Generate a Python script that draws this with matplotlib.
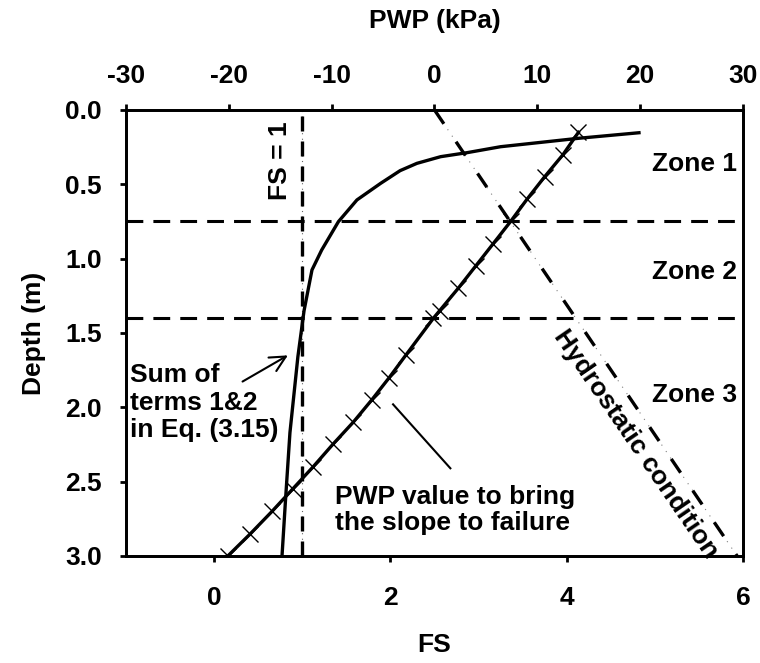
import matplotlib
matplotlib.use("Agg")
import matplotlib.pyplot as plt

plt.rcParams['font.family'] = ['Liberation Sans', 'DejaVu Sans']
plt.rcParams['font.weight'] = 'bold'
plt.rcParams['font.size'] = 19
plt.rcParams['axes.unicode_minus'] = False

# "Sum of terms 1&2 in Eq. (3.15)" curve (FS vs depth)
sum_depth = [0.153, 0.19, 0.247, 0.287, 0.314, 0.359, 0.408, 0.493, 0.605, 0.751, 0.942,
             1.076, 1.35, 1.66, 2.17, 2.62, 3.0]
sum_fs = [4.82, 4.14, 3.25, 2.87, 2.57, 2.30, 2.11, 1.89, 1.62, 1.41, 1.22,
          1.11, 1.02, 0.95, 0.86, 0.81, 0.77]

# PWP value to bring the slope to failure (kPa vs depth)
fail_depth = [0.15, 0.30, 0.45, 0.60, 0.75, 0.90, 1.05, 1.20, 1.35, 1.40, 1.65, 1.80, 1.95,
              2.10, 2.25, 2.40, 2.55, 2.70, 2.85, 3.00]
fail_pwp = [14.0, 12.5, 10.7, 9.0, 7.4, 5.7, 4.0, 2.3, 0.5, -0.1, -2.8, -4.4, -6.1,
            -7.9, -9.9, -11.8, -13.8, -15.8, -17.9, -20.1]

# hydrostatic condition
hyd_depth = [0.0, 3.0]
hyd_pwp = [0.0, 29.43]

zone_bounds = [0.75, 1.4]
fs_ticks = [0, 2, 4, 6]
pwp_ticks = [-30, -20, -10, 0, 10, 20, 30]
depth_ticks = [0.0, 0.5, 1.0, 1.5, 2.0, 2.5, 3.0]

fig = plt.figure(figsize=(7.6, 6.63), dpi=100)
ax = fig.add_axes([0.1658, 0.1614, 0.8118, 0.6727])
ax2 = ax.twiny()

ax.set_xlim(-1, 6)
ax.set_ylim(3.0, 0.0)
ax2.set_xlim(-30, 30)

# zone boundaries
for d in zone_bounds:
    ax.axhline(d, color='black', lw=2.2, linestyle=(0, (5.5, 3.3)), zorder=2)

# FS = 1 line (dash with thin dotted line inside)
ax.axvline(1, color='0.4', lw=0.8, linestyle=(0, (1, 4)), zorder=2)
ax.axvline(1, color='black', lw=2.4, linestyle=(0, (4.5, 3.0)), zorder=2)

# hydrostatic line
ax2.plot(hyd_pwp, hyd_depth, color='0.5', lw=0.8, linestyle=(0, (1, 6)), zorder=2)
ax2.plot(hyd_pwp, hyd_depth, color='black', lw=2.4, linestyle=(0, (5.0, 6.5)), zorder=2)

ax.plot(sum_fs, sum_depth, color='black', lw=2.4, zorder=3, solid_joinstyle='round')
ax2.plot(fail_pwp, fail_depth, color='black', lw=2.4, marker='x', markersize=11,
         markeredgewidth=1.0, zorder=3)

# ticks and labels
ax.set_xticks(fs_ticks)
ax.set_yticks(depth_ticks)
ax.set_yticklabels([f"{v:.1f}" for v in depth_ticks])
ax2.set_xticks(pwp_ticks)
ax.tick_params(axis='x', direction='out', length=4.5, width=2, pad=17, top=False)
ax.tick_params(axis='y', direction='out', length=4.5, width=2, pad=13, right=False)
ax2.tick_params(axis='x', direction='out', length=4.5, width=2, pad=11, bottom=False)
for a in (ax, ax2):
    for s in a.spines.values():
        s.set_linewidth(2)

ax.set_xlabel("FS", fontweight='bold', labelpad=17)
ax.set_ylabel("Depth (m)", fontweight='bold', labelpad=14)
ax2.set_xlabel("PWP (kPa)", fontweight='bold', labelpad=26)

# annotations
ax.text(5.93, 0.365, "Zone 1", ha='right', va='center')
ax.text(5.93, 1.09, "Zone 2", ha='right', va='center')
ax.text(5.93, 1.92, "Zone 3", ha='right', va='center')
ax.text(0.75, 0.34, "FS = 1", rotation=90, ha='center', va='center')
ax.text(-0.96, 1.70, "Sum of\nterms 1&2\nin Eq. (3.15)", ha='left', va='top', linespacing=1.2)
ax.annotate("", xy=(0.864, 1.641), xytext=(0.295, 1.836),
            arrowprops=dict(arrowstyle='->', lw=1.5, color='black', mutation_scale=28))
ax.text(1.375, 2.69, "PWP value to bring\nthe slope to failure", ha='left', va='center',
        linespacing=1.1)
ax.plot([2.03, 2.68], [1.98, 2.41], color='black', lw=1.5)
ax.text(4.78, 2.245, "Hydrostatic condition", rotation=-55.5, ha='center', va='center',
        rotation_mode='anchor')

fig.savefig("out.png", dpi=100)
